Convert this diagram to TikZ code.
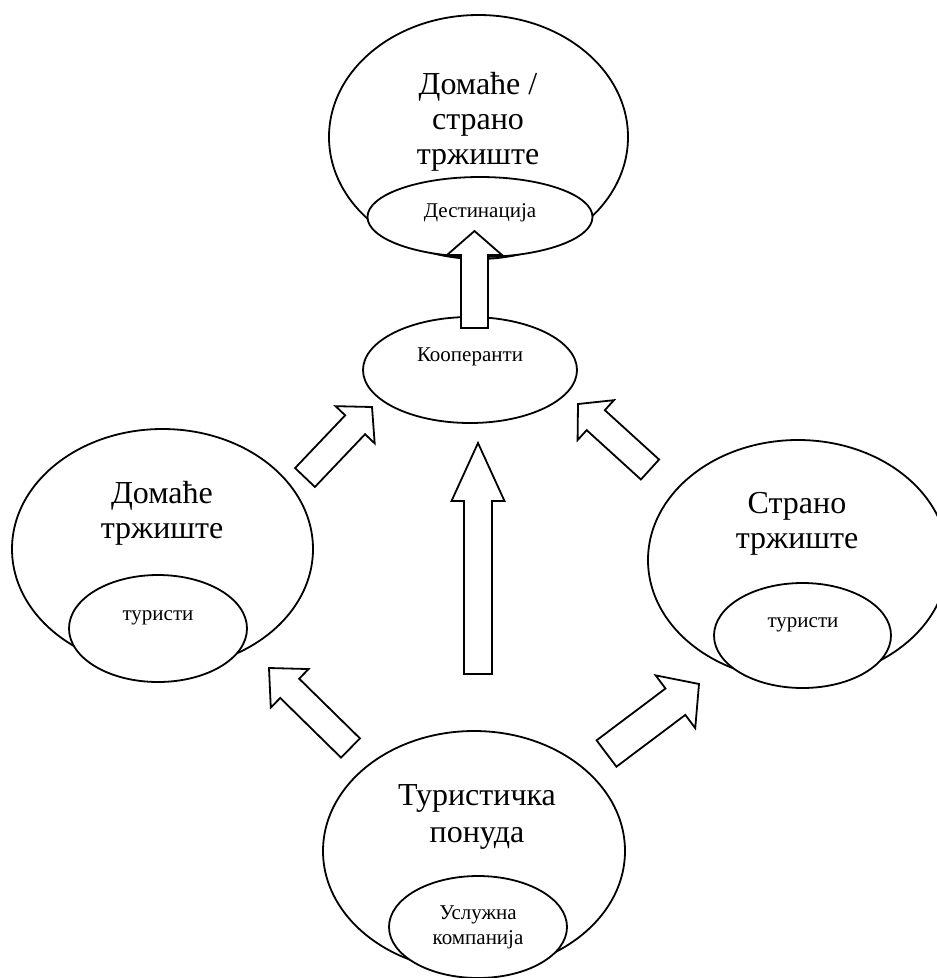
\documentclass[tikz,border=0pt]{standalone}
\usepackage{fontspec}
\setmainfont{Liberation Serif}
\usetikzlibrary{shapes.geometric,calc}
\tikzset{
  oval/.style={ellipse, draw, fill=white, line width=1.8pt, inner sep=0pt},
  bigtxt/.style={font=\fontsize{32}{35}\selectfont, align=center, inner sep=0pt, anchor=base},
  smalltxt/.style={font=\fontsize{21}{25}\selectfont, align=center, inner sep=0pt, anchor=base},
  arrowbox/.style={draw, fill=white, line width=1.8pt, line join=miter},
}
% tail, tip, half shaft width, half head width, head length
\newcommand\blockarrow[5]{%
  \coordinate (bh) at ($(#2)!#5!(#1)$);
  \draw[arrowbox] ($(#1)!#3!90:(#2)$) -- ($(bh)!#3!90:(#2)$) -- ($(bh)!#4!90:(#2)$) -- (#2)
    -- ($(bh)!#4!-90:(#2)$) -- ($(bh)!#3!-90:(#2)$) -- ($(#1)!#3!-90:(#2)$) -- cycle;
}
\begin{document}
\begin{tikzpicture}[x=1pt,y=-1pt]
\useasboundingbox (0,0) rectangle (937,978);
% top
\node[oval, minimum width=299pt, minimum height=244pt] (market) at (478.5,137) {};
\node[oval, minimum width=225pt, minimum height=80pt] (dest) at (480,217) {};
\node[bigtxt] (marketT) at (478,164) {Домаће /\\страно\\тржиште};
\node[smalltxt] (destT) at (480,217) {Дестинација};
% cooperants
\node[oval, minimum width=214pt, minimum height=106pt] (coop) at (470,370) {};
\node[smalltxt] (coopT) at (470,361) {Кооперанти};
% left
\node[oval, minimum width=301pt, minimum height=240pt] (dom) at (162.5,549) {};
\node[oval, minimum width=178pt, minimum height=107pt] (turL) at (158,628.5) {};
\node[bigtxt] (domT) at (162,538) {Домаће\\тржиште};
\node[smalltxt] (turLT) at (158,620) {туристи};
% right
\node[oval, minimum width=300pt, minimum height=240pt] (str) at (798,560) {};
\node[oval, minimum width=177pt, minimum height=105pt] (turR) at (802.5,635.5) {};
\node[bigtxt] (strT) at (797,548) {Страно\\тржиште};
\node[smalltxt] (turRT) at (803,627) {туристи};
% bottom
\node[oval, minimum width=302pt, minimum height=240pt] (offer) at (474,851) {};
\node[oval, minimum width=178pt, minimum height=102pt] (serv) at (478,927) {};
\node[bigtxt, font=\fontsize{32}{37}\selectfont] (offerT) at (477,842) {Туристичка\\понуда};
\node[smalltxt] (servT) at (478,944) {Услужна\\компанија};
% arrow end points
\coordinate (a1s) at (474.5,328); \coordinate (a1e) at (474.5,231);
\coordinate (a2s) at (478,674);   \coordinate (a2e) at (478,443);
\coordinate (a3s) at (305,477.5); \coordinate (a3e) at (372,407);
\coordinate (a4s) at (650,469.5); \coordinate (a4e) at (578,404);
\coordinate (a5s) at (350.5,748); \coordinate (a5e) at (269,668);
\coordinate (a6s) at (606.5,753.5); \coordinate (a6e) at (699,684);
\blockarrow{a1s}{a1e}{13.5pt}{27.5pt}{24pt}
\blockarrow{a2s}{a2e}{14pt}{26.5pt}{58pt}
\blockarrow{a3s}{a3e}{13.7pt}{27pt}{24.5pt}
\blockarrow{a4s}{a4e}{13.5pt}{27pt}{24pt}
\blockarrow{a5s}{a5e}{13.5pt}{27pt}{29pt}
\blockarrow{a6s}{a6e}{16.5pt}{33pt}{29.5pt}
\end{tikzpicture}
\end{document}
